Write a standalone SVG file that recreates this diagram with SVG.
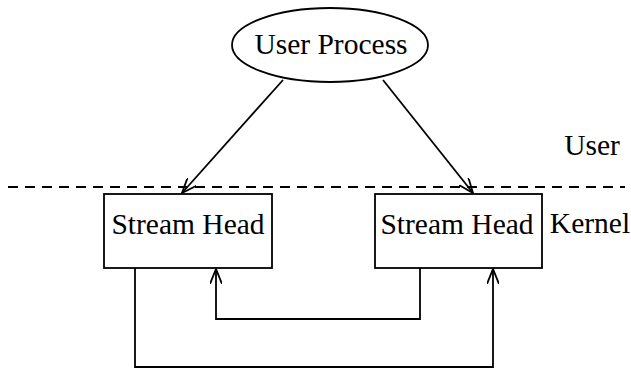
<svg xmlns="http://www.w3.org/2000/svg" width="631" height="368" viewBox="0 0 631 368">
<style>
.s{fill:none;stroke:#000;stroke-width:1.8}
.t{font-family:"Liberation Serif",serif;font-size:29.5px;fill:#000}
</style>
<defs>
<marker id="a" viewBox="0 0 16 12" refX="15" refY="6" markerWidth="16" markerHeight="12" markerUnits="userSpaceOnUse" orient="auto">
<path d="M0,0 L15,6 L0,12" fill="none" stroke="#000" stroke-width="1.8"/>
</marker>
</defs>
<rect width="631" height="368" fill="#fff"/>
<g id="user-process">
<ellipse class="s" cx="330" cy="45" rx="98" ry="37"/>
<text class="t" x="331" y="54" text-anchor="middle">User Process</text>
</g>
<g id="divider">
<line x1="8" y1="187" x2="625" y2="187" stroke="#000" stroke-width="2" stroke-dasharray="10,7"/>
<text class="t" x="592" y="155" text-anchor="middle">User</text>
<text class="t" x="590" y="233" text-anchor="middle">Kernel</text>
</g>
<g id="stream-head-1">
<rect class="s" x="104" y="194" width="168" height="74"/>
<text class="t" x="188" y="234" text-anchor="middle">Stream Head</text>
</g>
<g id="stream-head-2">
<rect class="s" x="375" y="194" width="167" height="74"/>
<text class="t" x="457" y="234" text-anchor="middle">Stream Head</text>
</g>
<g id="connectors">
<line class="s" x1="283" y1="80" x2="182" y2="193" marker-end="url(#a)"/>
<line class="s" x1="383" y1="80" x2="473" y2="193" marker-end="url(#a)"/>
<polyline class="s" points="135,268 135,367 493,367 493,269" marker-end="url(#a)"/>
<polyline class="s" points="420,268 420,319 216,319 216,269" marker-end="url(#a)"/>
</g>
</svg>
